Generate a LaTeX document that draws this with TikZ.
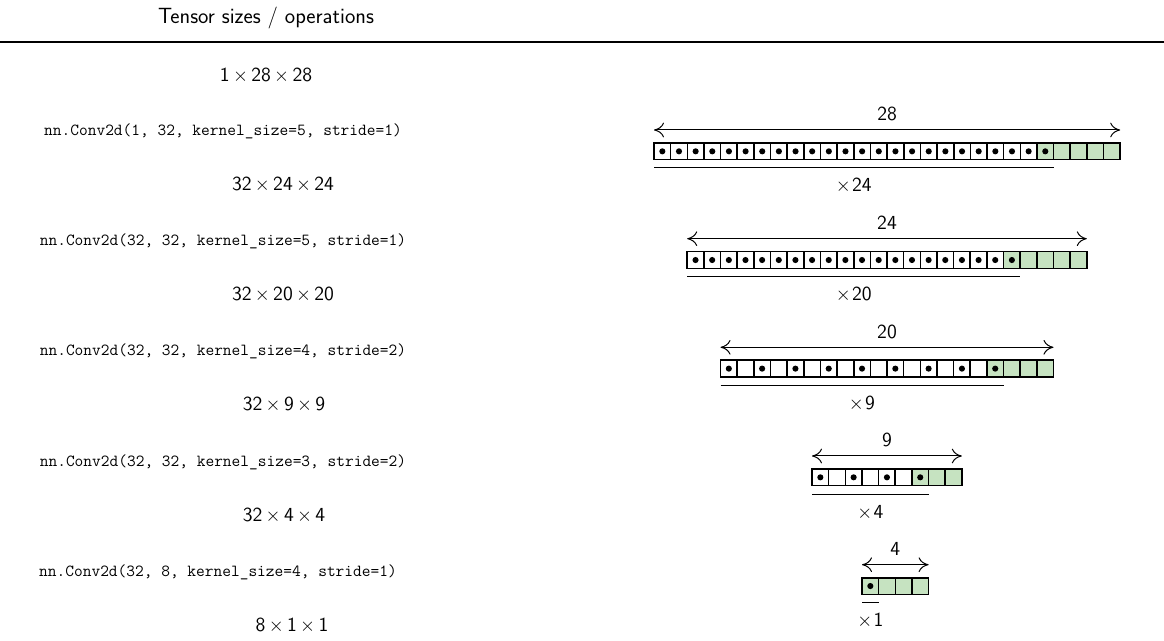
\documentclass[tikz,border=0pt]{standalone}
\usepackage{fontspec}
\usetikzlibrary{arrows.meta}

\definecolor{kerngreen}{RGB}{198,227,193}
\tikzset{every picture/.style={line width=0.75pt}}
\tikzset{
  cellbox/.style={draw=black,line width=1.2pt},
  kernbox/.style={cellbox,fill=kerngreen},
  spanarrow/.style={{To[length=7.5pt,width=11pt]}-{To[length=7.5pt,width=11pt]}},
  sizetxt/.style={font=\fontsize{15}{18}\selectfont\sffamily},
  headtxt/.style={font=\fontsize{16.5}{20}\selectfont\sffamily},
  optxt/.style={font=\fontsize{12.7}{16}\selectfont\ttfamily},
}

\begin{document}
\begin{tikzpicture}[x=0.75pt,y=0.75pt,yscale=-1,xscale=1]
\useasboundingbox (0,0) rectangle (1164,641);

% Text Node
\draw (266,24) node (hdr) [anchor=base][inner sep=0.75pt][headtxt] {Tensor sizes / operations};
%Straight Lines [rule]
\draw [line width=1.1pt] (0,42) -- (1164,42);

% Text Node
\draw (266,82) node (sz0) [anchor=base][inner sep=0.75pt][sizetxt] {1\,$\times$\,28\,$\times$\,28};
% Text Node
\draw (223,136) node (op1) [anchor=base][inner sep=0.75pt][optxt] {nn.Conv2d(1, 32, kernel\_size=5, stride=1)};
% Text Node
\draw (283,191) node (sz1) [anchor=base][inner sep=0.75pt][sizetxt] {32\,$\times$\,24\,$\times$\,24};
% Text Node
\draw (223,246) node (op2) [anchor=base][inner sep=0.75pt][optxt] {nn.Conv2d(32, 32, kernel\_size=5, stride=1)};
% Text Node
\draw (283,301) node (sz2) [anchor=base][inner sep=0.75pt][sizetxt] {32\,$\times$\,20\,$\times$\,20};
% Text Node
\draw (223,356) node (op3) [anchor=base][inner sep=0.75pt][optxt] {nn.Conv2d(32, 32, kernel\_size=4, stride=2)};
% Text Node
\draw (284,411) node (sz3) [anchor=base][inner sep=0.75pt][sizetxt] {32\,$\times$\,9\,$\times$\,9};
% Text Node
\draw (223,466) node (op4) [anchor=base][inner sep=0.75pt][optxt] {nn.Conv2d(32, 32, kernel\_size=3, stride=2)};
% Text Node
\draw (284,521) node (sz4) [anchor=base][inner sep=0.75pt][sizetxt] {32\,$\times$\,4\,$\times$\,4};
% Text Node
\draw (218,576) node (op5) [anchor=base][inner sep=0.75pt][optxt] {nn.Conv2d(32, 8, kernel\_size=4, stride=1)};
% Text Node
\draw (292,631) node (sz5) [anchor=base][inner sep=0.75pt][sizetxt] {8\,$\times$\,1\,$\times$\,1};

%Shape: Row 28 -> 24
\foreach \i in {0,...,27} \draw [cellbox] ({654+16.65*\i},143) rectangle ++(16.65,16.65);
\foreach \i in {23,...,27} \draw [kernbox] ({654+16.65*\i},143) rectangle ++(16.65,16.65);
\foreach \i in {0,...,23} \fill ({662.33+16.65*\i},151.33) circle (2.3pt);
\coordinate (w28a) at (654,130);
\coordinate (w28b) at (1120.2,130);
\draw [spanarrow] (w28a) -- (w28b);
\draw (887.1,121) node (n28) [anchor=base][inner sep=0.75pt][sizetxt] {28};
\coordinate (o24a) at (654,168);
\coordinate (o24b) at (1053.6,168);
\draw (o24a) -- (o24b);
\draw (853.8,192) node (x24) [anchor=base][inner sep=0.75pt][sizetxt] {$\times$\kern1pt24};

%Shape: Row 24 -> 20
\foreach \i in {0,...,23} \draw [cellbox] ({687.2+16.65*\i},251.7) rectangle ++(16.65,16.65);
\foreach \i in {19,...,23} \draw [kernbox] ({687.2+16.65*\i},251.7) rectangle ++(16.65,16.65);
\foreach \i in {0,...,19} \fill ({695.53+16.65*\i},260.03) circle (2.3pt);
\coordinate (w24a) at (687.2,238.7);
\coordinate (w24b) at (1086.8,238.7);
\draw [spanarrow] (w24a) -- (w24b);
\draw (887,229.7) node (n24) [anchor=base][inner sep=0.75pt][sizetxt] {24};
\coordinate (o20a) at (687.2,276.7);
\coordinate (o20b) at (1020.2,276.7);
\draw (o20a) -- (o20b);
\draw (853.7,300.7) node (x20) [anchor=base][inner sep=0.75pt][sizetxt] {$\times$\kern1pt20};

%Shape: Row 20 -> 9
\foreach \i in {0,...,19} \draw [cellbox] ({720.5+16.65*\i},360.3) rectangle ++(16.65,16.65);
\foreach \i in {16,...,19} \draw [kernbox] ({720.5+16.65*\i},360.3) rectangle ++(16.65,16.65);
\foreach \i in {0,...,8} \fill ({728.83+33.3*\i},368.63) circle (2.3pt);
\coordinate (w20a) at (720.5,347.3);
\coordinate (w20b) at (1053.5,347.3);
\draw [spanarrow] (w20a) -- (w20b);
\draw (887,338.3) node (n20) [anchor=base][inner sep=0.75pt][sizetxt] {20};
\coordinate (o9a) at (720.5,385.3);
\coordinate (o9b) at (1003.55,385.3);
\draw (o9a) -- (o9b);
\draw (862,409.3) node (x9) [anchor=base][inner sep=0.75pt][sizetxt] {$\times$\kern1pt9};

%Shape: Row 9 -> 4
\foreach \i in {0,...,8} \draw [cellbox] ({812+16.65*\i},469) rectangle ++(16.65,16.65);
\foreach \i in {6,...,8} \draw [kernbox] ({812+16.65*\i},469) rectangle ++(16.65,16.65);
\foreach \i in {0,...,3} \fill ({820.33+33.3*\i},477.33) circle (2.3pt);
\coordinate (w9a) at (812,456);
\coordinate (w9b) at (961.85,456);
\draw [spanarrow] (w9a) -- (w9b);
\draw (886.9,447) node (n9) [anchor=base][inner sep=0.75pt][sizetxt] {9};
\coordinate (o4a) at (812,494);
\coordinate (o4b) at (928.55,494);
\draw (o4a) -- (o4b);
\draw (870.3,518) node (x4) [anchor=base][inner sep=0.75pt][sizetxt] {$\times$\kern1pt4};

%Shape: Row 4 -> 1
\foreach \i in {0,...,3} \draw [kernbox] ({862+16.65*\i},577.7) rectangle ++(16.65,16.65);
\fill (870.33,586.03) circle (2.3pt);
\coordinate (w4a) at (862,564.7);
\coordinate (w4b) at (928.6,564.7);
\draw [spanarrow] (w4a) -- (w4b);
\draw (895.3,555.7) node (n4) [anchor=base][inner sep=0.75pt][sizetxt] {4};
\coordinate (o1a) at (862,602.7);
\coordinate (o1b) at (878.65,602.7);
\draw (o1a) -- (o1b);
\draw (870.3,626.7) node (x1) [anchor=base][inner sep=0.75pt][sizetxt] {$\times$\kern1pt1};

\end{tikzpicture}
\end{document}
